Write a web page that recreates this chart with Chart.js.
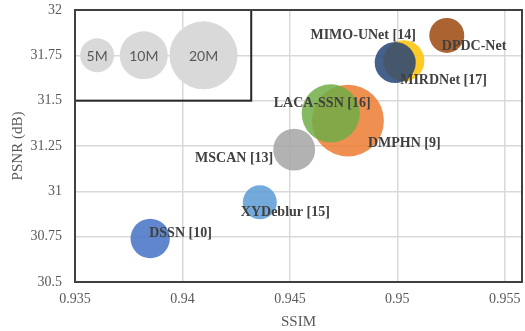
<!DOCTYPE html>
<html>
<head>
<meta charset="utf-8">
<script src="https://cdn.jsdelivr.net/npm/chart.js@4/dist/chart.umd.min.js"></script>
<style>
  html, body { margin: 0; padding: 0; background: #fff; }
  #wrap { width: 525px; height: 331px; }
</style>
</head>
<body>
<div id="wrap"><canvas id="graph"></canvas></div>
<script>
// Données
const models = ["DSSN [10]", "DMPHN [9]", "MSCAN [13]", "XYDeblur [15]", "MIMO-UNet [14]", "LACA-SSN [16]", "MIRDNet [17]", "DPDC-Net"];
const ssim   = [0.9385, 0.9477, 0.9452, 0.9436, 0.9503, 0.9469, 0.9499, 0.9523];
const psnr   = [30.74, 31.39, 31.23, 30.94, 31.72, 31.43, 31.71, 31.86];
const params = [6.7, 22.4, 7.6, 5.0, 7.3, 14.6, 7.3, 5.3]; // millions
const colors = ["#4472C4", "#ED7D31", "#A5A5A5", "#5B9BD5", "#FFC000", "#70AD47", "#264478", "#9E480E"];

// Légende des tailles
const sizeLabels = ["5M", "10M", "20M"];
const sizeValues = [5, 10, 20];
const sizeX = [0.93603, 0.9382, 0.94098];
const sizeY = [31.75, 31.75, 31.75];

// Position des étiquettes (décalage en px, alignement)
const labelPos = [
  {dx: -1,  dy: -5,  align: "left"},
  {dx: 20,  dy: 23,  align: "left"},
  {dx: -21, dy: 9,   align: "right"},
  {dx: -19, dy: 10,  align: "left"},
  {dx: 12,  dy: -25, align: "right"},
  {dx: -57, dy: -10, align: "left"},
  {dx: 5,   dy: 18,  align: "left"},
  {dx: -5,  dy: 11,  align: "left"}
];

const K = 7.6; // rayon = K * sqrt(taille)
function rad(m) { return K * Math.sqrt(m); }

function hexA(hex, a) {
  const n = parseInt(hex.slice(1), 16);
  return `rgba(${n >> 16},${(n >> 8) & 255},${n & 255},${a})`;
}

// pas de marge auto pour les grosses bulles
Chart.BubbleController.prototype.getMaxOverflow = function() { return 0; };

const datasets = [{
  label: "tailles",
  data: sizeValues.map((v, i) => ({x: sizeX[i], y: sizeY[i], r: rad(v)})),
  backgroundColor: "#D9D9D9",
  borderWidth: 0,
  order: 100
}];
models.forEach((m, i) => {
  datasets.push({
    label: m,
    data: [{x: ssim[i], y: psnr[i], r: rad(params[i])}],
    backgroundColor: hexA(colors[i], 0.85),
    borderWidth: 0,
    order: models.length - i   // les derniers dessinés au-dessus
  });
});

const serif = "'Liberation Serif', 'Times New Roman', serif";

const labelsPlugin = {
  id: "labels",
  afterDatasetsDraw(chart) {
    const ctx = chart.ctx;
    const xs = chart.scales.x, ys = chart.scales.y;
    ctx.save();
    // cadre de la légende des tailles
    ctx.strokeStyle = "#262626";
    ctx.lineWidth = 2;
    const bx1 = xs.getPixelForValue(0.935), bx2 = xs.getPixelForValue(0.9432);
    const by1 = ys.getPixelForValue(32), by2 = ys.getPixelForValue(31.5);
    ctx.strokeRect(bx1, by1, bx2 - bx1, by2 - by1);
    // cadre de la zone de tracé
    const a = chart.chartArea;
    ctx.strokeStyle = "#404040";
    ctx.strokeRect(a.left, a.top, a.right - a.left, a.bottom - a.top);

    // textes des tailles
    ctx.font = "14px Lato, 'Open Sans', sans-serif";
    ctx.fillStyle = "#595959";
    ctx.textAlign = "center";
    ctx.textBaseline = "middle";
    chart.getDatasetMeta(0).data.forEach((p, i) => {
      ctx.fillText(sizeLabels[i], p.x, p.y + 1);
    });

    // noms des modèles
    ctx.font = "bold 14px " + serif;
    ctx.fillStyle = "#404040";
    models.forEach((m, i) => {
      const p = chart.getDatasetMeta(i + 1).data[0];
      const lp = labelPos[i];
      ctx.textAlign = lp.align;
      ctx.fillText(m, p.x + lp.dx, p.y + lp.dy);
    });
    ctx.restore();
  }
};

const fmt = d => v => String(Number(v.toFixed(d)));

new Chart(document.getElementById("graph"), {
  type: "bubble",
  data: {datasets},
  options: {
    responsive: true,
    maintainAspectRatio: false,
    animation: false,
    events: [],
    layout: {padding: {top: 10, right: 3, left: 0, bottom: 0}},
    plugins: {legend: {display: false}, tooltip: {enabled: false}},
    scales: {
      x: {
        type: "linear",
        min: 0.935, max: 0.9558,
        afterFit: s => { s.height = 49; s.paddingLeft = 0; s.paddingRight = 0; },
        ticks: {stepSize: 0.005, includeBounds: false, padding: 9, color: "#595959",
                font: {family: serif, size: 14}, callback: fmt(3), maxRotation: 0},
        grid: {color: "#D9D9D9", lineWidth: 1.5, drawTicks: false},
        border: {display: false},
        title: {display: true, text: "SSIM", color: "#595959",
                font: {family: serif, size: 15}, padding: {top: 0, bottom: 0}}
      },
      y: {
        min: 30.5, max: 32,
        afterFit: s => { s.width = 75; s.paddingTop = 0; s.paddingBottom = 0; },
        ticks: {stepSize: 0.25, padding: 13, color: "#595959",
                font: {family: serif, size: 14}, callback: fmt(2)},
        grid: {color: "#D9D9D9", lineWidth: 1.5, drawTicks: false},
        border: {display: false},
        title: {display: true, text: "PSNR (dB)", color: "#595959",
                font: {family: serif, size: 15}, padding: {top: 9, bottom: 0}}
      }
    }
  },
  plugins: [labelsPlugin]
});
</script>
</body>
</html>
